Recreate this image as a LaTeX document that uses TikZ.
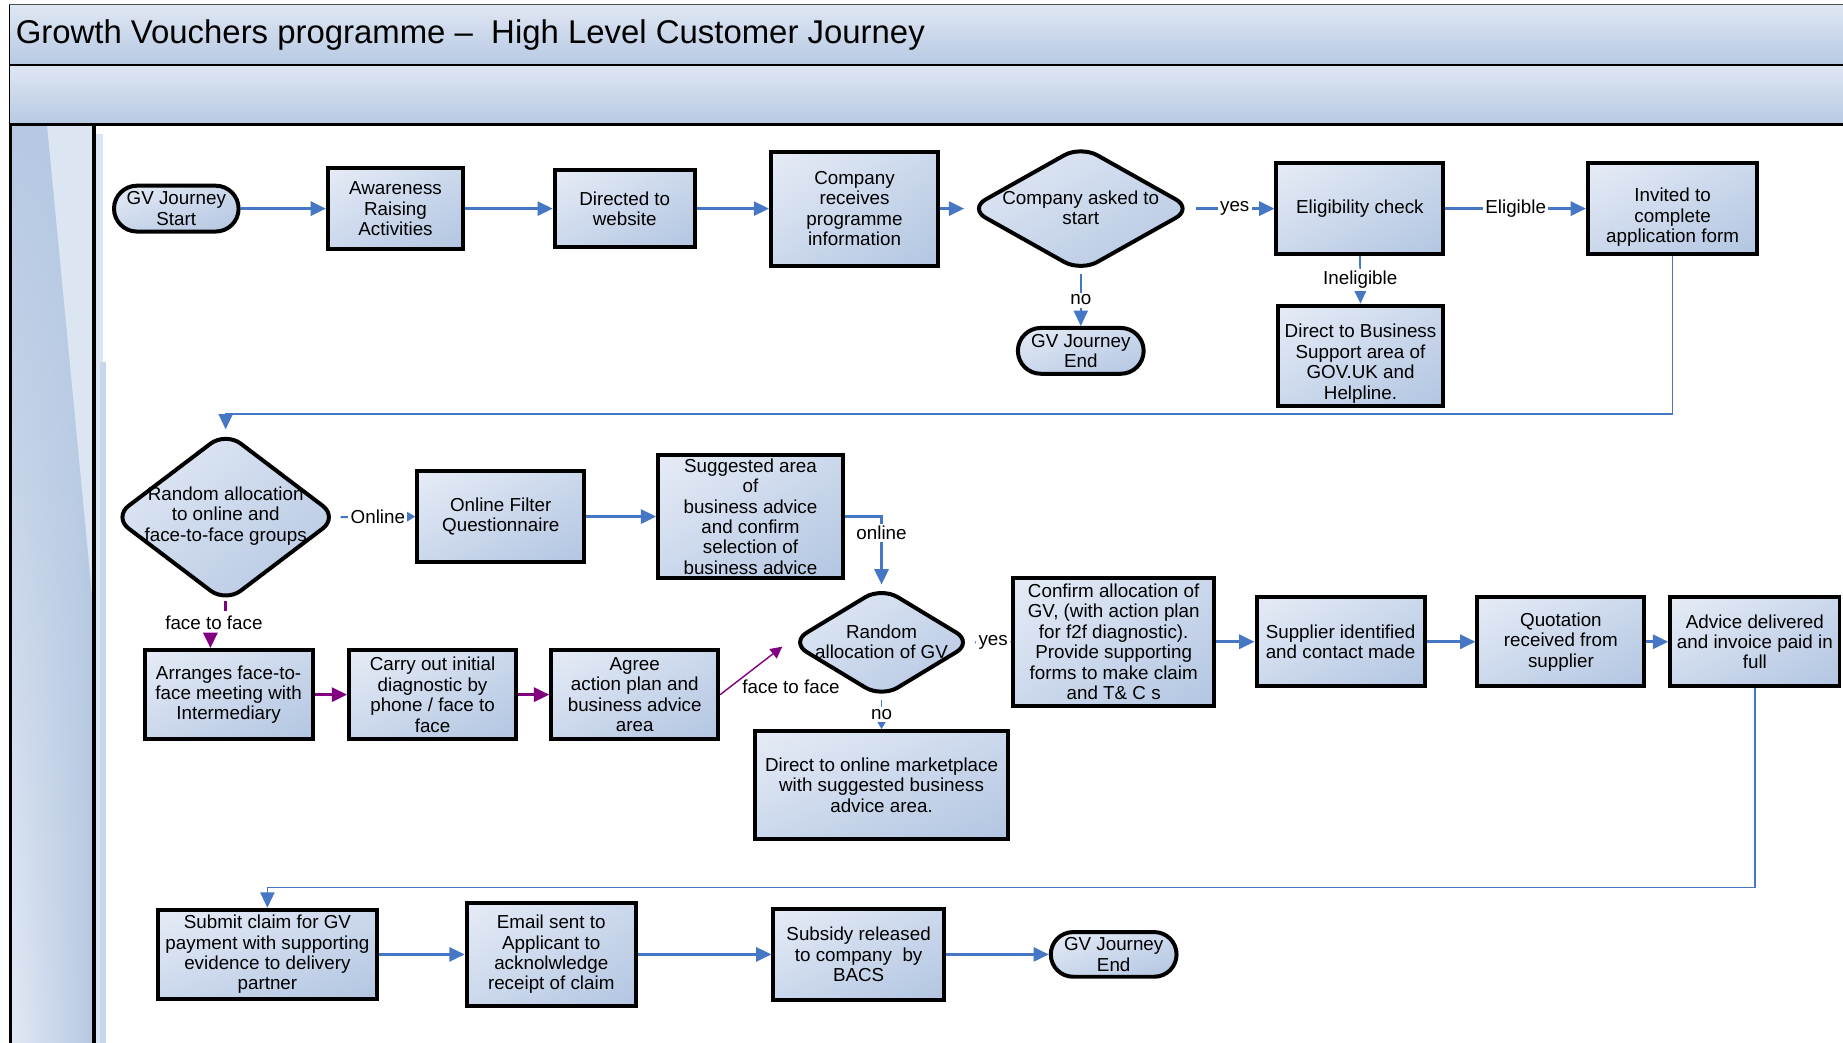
\documentclass[tikz,border=0pt]{standalone}
\usepackage{fontspec}
\setmainfont{Liberation Sans}
\usetikzlibrary{shapes.geometric,shapes.misc,arrows.meta,shadings}
\definecolor{boxlight}{HTML}{E6ECF6}
\definecolor{boxmid}{HTML}{CBD8EC}
\definecolor{boxdark}{HTML}{B2C5E1}
\definecolor{flowblue}{HTML}{4677C5}
\definecolor{flowpurple}{HTML}{800080}
\definecolor{hdrlight}{HTML}{DFE7F3}
\definecolor{hdrdark}{HTML}{B7C9E3}
\definecolor{lanelight}{HTML}{E2E9F4}
\definecolor{lanemid}{HTML}{B6C8E2}
\definecolor{stripA}{HTML}{DCE5F2}
\definecolor{stripB}{HTML}{C9D7EC}
\tikzset{
  fsz/.style={font=\fontsize{8}{8.7}\selectfont},
  base/.style={draw=black, line width=1.7pt, upper left=boxlight, upper right=boxmid,
    lower left=boxmid, lower right=boxdark, fsz, align=center, inner sep=1pt},
  box/.style={base, rectangle},
  term/.style={base, rounded rectangle},
  dec/.style={base, diamond, rounded corners=8pt, inner sep=0pt},
  dectext/.style={fsz, align=center, inner sep=0pt},
  lbl/.style={fill=white, fsz, inner sep=1pt},
  arr/.style={draw=flowblue, line width=1.1pt, -{Triangle[length=6.5pt,width=6pt]}},
  thinarr/.style={draw=flowblue, line width=0.7pt, -{Triangle[length=6.5pt,width=6pt]}},
  smallarr/.style={draw=flowblue, line width=0.8pt, -{Triangle[length=3.5pt,width=4pt]}},
  parr/.style={draw=flowpurple, line width=1.1pt, -{Triangle[length=6.5pt,width=6pt]}},
  pthin/.style={draw=flowpurple, line width=0.6pt, -{Triangle[length=5pt,width=5pt]}},
}
\begin{document}
\begin{tikzpicture}[x=0.5pt, y=-0.5pt]
\useasboundingbox (0,0) rectangle (1568,887);
% header bands
\shade[top color=hdrlight, bottom color=hdrdark] (8,4) rectangle (1568,55);
\shade[top color=hdrlight, bottom color=hdrdark] (8,55) rectangle (1568,106);
\node[anchor=west, font=\fontsize{14}{16}\selectfont, inner sep=0pt] (title) at (13,30)
  {Growth Vouchers programme –~ High Level Customer Journey};
% left lane
\shade[upper left=lanemid, upper right=lanemid, lower left=lanelight, lower right=lanemid]
  (9,106) rectangle (80,887);
\fill[stripA] (40,106) -- (80,106) -- (80,524) -- cycle;
\fill[stripA] (82,114) rectangle (88,887);
\fill[stripB] (85,308) rectangle (90,887);
% frame lines
\draw[gray!60!black, line width=0.6pt] (8,4) -- (1568,4);
\draw[black, line width=0.8pt] (8,55) -- (1568,55);
\draw[black, line width=0.6pt] (8,4) -- (8,106);
\draw[black, line width=1.6pt] (8,106) -- (1568,106);
\draw[black, line width=1.6pt] (9,106) -- (9,887);
\draw[black, line width=1.6pt] (80,106) -- (80,887);

% row 1
\node[term, minimum width=55pt, minimum height=19.5pt] (start) at (150,177.5) {GV Journey\\Start};
\node[box, minimum width=57.5pt, minimum height=34.5pt] (aware) at (336.5,177.5) {Awareness\\Raising\\Activities};
\node[box, minimum width=59.5pt, minimum height=33pt] (direct) at (531.5,177.5) {Directed to\\website};
\node[box, minimum width=71pt, minimum height=48.5pt] (company) at (727,177.5) {Company\\receives\\programme\\information};
\node[dec, minimum width=95.5pt, minimum height=54pt] (asked) at (919.5,177.5) {};
\node[dectext] (askedT) at (919.5,177) {Company asked to\\start};
\node[box, minimum width=71pt, minimum height=38.5pt] (elig) at (1157,177.5) {Eligibility check};
\node[box, minimum width=72pt, minimum height=38.5pt] (invited) at (1423,177.5) {};
\node[dectext] (invitedT) at (1423,185) {Invited to\\complete\\application form};
\node[term, minimum width=55.5pt, minimum height=19.5pt] (end1) at (919.5,298.5) {GV Journey\\End};
\node[box, minimum width=70.5pt, minimum height=42.5pt] (gov) at (1157.5,302.5) {};
\node[dectext] (govT) at (1157.5,309.5) {Direct to Business\\Support area of\\GOV.UK and\\Helpline.};

% row 2
\node[dec, minimum width=96pt, minimum height=73pt] (rand1) at (192,440) {};
\node[dectext] (rand1T) at (192,439) {Random allocation\\to online and\\face-to-face groups};
\node[box, minimum width=71pt, minimum height=38.5pt] (filter) at (426,439.5) {Online Filter\\Questionnaire};
\node[box, minimum width=78.5pt, minimum height=52.5pt] (suggest) at (638.5,439.5) {Suggested area\\of\\business advice\\and confirm\\selection of\\business advice};
\node[dec, minimum width=78pt, minimum height=47.5pt] (rand2) at (750,546.5) {};
\node[dectext] (rand2T) at (750,546) {Random\\allocation of GV};
\node[box, minimum width=85.5pt, minimum height=54.5pt] (confirm) at (947.5,546) {Confirm allocation of\\GV, (with action plan\\for f2f diagnostic).\\Provide supporting\\forms to make claim\\and T\& C s};
\node[box, minimum width=71.5pt, minimum height=38pt] (supplier) at (1140.5,546) {Supplier identified\\and contact made};
\node[box, minimum width=71pt, minimum height=38pt] (quote) at (1328,546) {Quotation\\received from\\supplier};
\node[box, minimum width=72pt, minimum height=38pt] (advice) at (1493,546) {Advice delivered\\and invoice paid in\\full};
\node[box, minimum width=108pt, minimum height=46pt] (market) at (750,668) {Direct to online marketplace\\with suggested business\\advice area.};

% row 3
\node[box, minimum width=71.5pt, minimum height=38pt] (arrange) at (194.5,591) {Arranges face-to-\\face meeting with\\Intermediary};
\node[box, minimum width=71pt, minimum height=38pt] (carry) at (368,591) {Carry out initial\\diagnostic by\\phone / face to\\face};
\node[box, minimum width=71pt, minimum height=38pt] (agree) at (540,591) {Agree\\action plan and\\business advice\\area};

% row 4
\node[box, minimum width=93.5pt, minimum height=38pt] (submit) at (227.5,812) {Submit claim for GV\\payment with supporting\\evidence to delivery\\partner};
\node[box, minimum width=72pt, minimum height=44pt] (email) at (469,812) {Email sent to\\Applicant to\\acknolwledge\\receipt of claim};
\node[box, minimum width=72.5pt, minimum height=38.5pt] (subsidy) at (730.5,812) {Subsidy released\\to company\ \ by\\BACS};
\node[term, minimum width=55.5pt, minimum height=19pt] (end2) at (947.5,812) {GV Journey\\End};

% connectors row 1
\draw[arr] (start.east) -- (aware.west);
\draw[arr] (aware.east) -- (direct.west);
\draw[arr] (direct.east) -- (company.west);
\draw[arr, shorten >=1pt] (company.east) -- (asked.west);
\draw[arr, shorten <=0.5pt] (asked.east) -- node[lbl] {yes} (elig.west);
\draw[arr] (elig.east) -- node[lbl] {Eligible} (invited.west);
\draw[thinarr] (asked.south) -- node[lbl] {no} (end1.north);
\draw[thinarr] (elig.south) -- node[lbl] {Ineligible} (gov.north);
\coordinate (bend1) at (1423,352);
\draw[thinarr] (invited.south) -- (bend1) -| (rand1.north);

% connectors row 2
\draw[smallarr] (rand1.east) -- node[lbl] {Online} (filter.west);
\draw[arr] (filter.east) -- (suggest.west);
\draw[arr] (suggest.east) -| node[lbl, pos=0.62] {online} (rand2.north);
\draw[smallarr] (rand2.east) -- node[lbl] {yes} (confirm.west);
\draw[smallarr, line width=0.6pt] (rand2.south) -- node[lbl] {no} (market.north);
\draw[arr] (confirm.east) -- (supplier.west);
\draw[arr] (supplier.east) -- (quote.west);
\draw[arr] (quote.east) -- (advice.west);
\coordinate (bend2) at (1493,755);
\draw[thinarr] (advice.south) -- (bend2) -| (submit.north);

% face to face branch
\draw[draw=flowpurple, line width=1.1pt] ([yshift=1.5pt]rand1.south) -- ++(0,8);
\node[fsz, inner sep=1pt] (f2fA) at (182,530) {face to face};
\coordinate (f2fB) at (179,540);
\draw[parr] (f2fB) -- (f2fB |- arrange.north);
\draw[parr] (arrange.east) -- (carry.west);
\draw[parr] (carry.east) -- (agree.west);
\draw[pthin, shorten >=3pt] (agree.east) -- (rand2.west);
\node[fsz, inner sep=1pt] (f2fC) at (673,584) {face to face};

% connectors row 4
\draw[arr] (submit.east) -- (email.west);
\draw[arr] (email.east) -- (subsidy.west);
\draw[arr] (subsidy.east) -- (end2.west);
\end{tikzpicture}
\end{document}
